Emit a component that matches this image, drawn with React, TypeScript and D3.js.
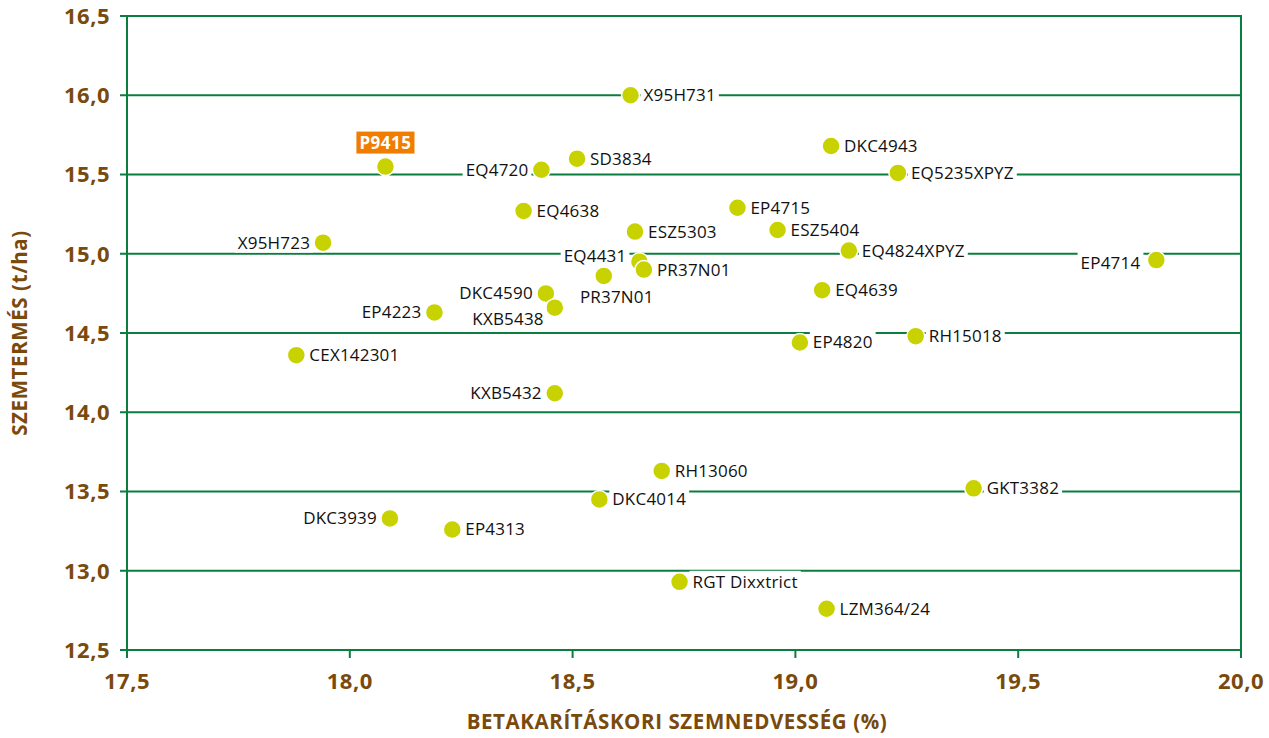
import React, { useEffect, useRef } from 'react';
import * as d3 from 'd3';

// hybrid names, moisture at harvest (%), yield (t/ha)
const hybrids = [
  'X95H731', 'P9415', 'SD3834', 'EQ4720', 'DKC4943', 'EQ5235XPYZ', 'EQ4638', 'EP4715',
  'ESZ5303', 'ESZ5404', 'X95H723', 'EQ4824XPYZ', 'EP4714', 'EQ4431', 'PR37N01', 'PR37N01',
  'DKC4590', 'KXB5438', 'EP4223', 'EQ4639', 'CEX142301', 'EP4820', 'RH15018', 'KXB5432',
  'RH13060', 'GKT3382', 'DKC4014', 'DKC3939', 'EP4313', 'RGT Dixxtrict', 'LZM364/24',
];
const moisture = [
  18.63, 18.08, 18.51, 18.43, 19.08, 19.23, 18.39, 18.87,
  18.64, 18.96, 17.94, 19.12, 19.81, 18.65, 18.66, 18.57,
  18.44, 18.46, 18.19, 19.06, 17.88, 19.01, 19.27, 18.46,
  18.70, 19.40, 18.56, 18.09, 18.23, 18.74, 19.07,
];
const yieldT = [
  16.0, 15.55, 15.6, 15.53, 15.68, 15.51, 15.27, 15.29,
  15.14, 15.15, 15.07, 15.02, 14.96, 14.95, 14.9, 14.86,
  14.75, 14.66, 14.63, 14.77, 14.36, 14.44, 14.48, 14.12,
  13.63, 13.52, 13.45, 13.33, 13.26, 12.93, 12.76,
];
// where the name sits next to its dot: r = right, l = left, la = left above, lb = left below, b = below, top = badge
const labelSide = [
  'r', 'top', 'r', 'l', 'r', 'r', 'r', 'r',
  'r', 'r', 'l', 'r', 'lb2', 'la', 'r', 'b',
  'l', 'lb', 'l', 'r', 'r', 'r', 'r', 'l',
  'r', 'r', 'r', 'l', 'r', 'r', 'r',
];

const xTicks = [17.5, 18.0, 18.5, 19.0, 19.5, 20.0];
const yTicks = [12.5, 13.0, 13.5, 14.0, 14.5, 15.0, 15.5, 16.0, 16.5];

const W = 1269;
const H = 738;
const GREEN = '#0b7d3e';
const BROWN = '#7a4a0c';
const DOT = '#c8d200';
const ORANGE = '#f07d00';
const FONT = '"Open Sans", "DejaVu Sans", sans-serif';

const fmt = (v: number) => v.toFixed(1).replace('.', ',');

export default function App() {
  const svgRef = useRef<SVGSVGElement>(null);

  useEffect(() => {
    document.body.style.margin = '0';
    const svg = d3.select(svgRef.current);
    svg.selectAll('*').remove();

    const x = d3.scaleLinear().domain([17.5, 20.0]).range([127, 1241]);
    const y = d3.scaleLinear().domain([12.5, 16.5]).range([650, 16]);

    // grid lines
    svg.append('g')
      .selectAll('line')
      .data(yTicks)
      .join('line')
      .attr('x1', 120)
      .attr('x2', x(20))
      .attr('y1', d => y(d))
      .attr('y2', d => y(d))
      .attr('stroke', GREEN)
      .attr('stroke-width', 2);

    // frame sides
    svg.append('line')
      .attr('x1', x(17.5)).attr('x2', x(17.5))
      .attr('y1', y(16.5) - 1).attr('y2', y(12.5) + 8)
      .attr('stroke', GREEN).attr('stroke-width', 2);
    svg.append('line')
      .attr('x1', x(20)).attr('x2', x(20))
      .attr('y1', y(16.5) - 1).attr('y2', y(12.5) + 8)
      .attr('stroke', GREEN).attr('stroke-width', 2);

    // x ticks
    svg.append('g')
      .selectAll('line')
      .data(xTicks)
      .join('line')
      .attr('x1', d => x(d))
      .attr('x2', d => x(d))
      .attr('y1', y(12.5))
      .attr('y2', y(12.5) + 8)
      .attr('stroke', GREEN)
      .attr('stroke-width', 2);

    // tick labels
    svg.append('g')
      .selectAll('text')
      .data(yTicks)
      .join('text')
      .attr('x', 110)
      .attr('y', d => y(d))
      .attr('dy', '0.36em')
      .attr('text-anchor', 'end')
      .attr('font-family', FONT)
      .attr('font-weight', 700)
      .attr('font-size', 22)
      .attr('letter-spacing', 0.5)
      .attr('fill', BROWN)
      .text(d => fmt(d));

    svg.append('g')
      .selectAll('text')
      .data(xTicks)
      .join('text')
      .attr('x', d => x(d))
      .attr('y', 689)
      .attr('text-anchor', 'middle')
      .attr('font-family', FONT)
      .attr('font-weight', 700)
      .attr('font-size', 22)
      .attr('letter-spacing', 0.5)
      .attr('fill', BROWN)
      .text(d => fmt(d));

    // axis titles
    svg.append('text')
      .attr('x', 677)
      .attr('y', 729)
      .attr('text-anchor', 'middle')
      .attr('font-family', FONT)
      .attr('font-weight', 700)
      .attr('font-size', 20.5)
      .attr('letter-spacing', 0.6)
      .attr('fill', BROWN)
      .text('BETAKARÍTÁSKORI SZEMNEDVESSÉG (%)');

    svg.append('text')
      .attr('transform', 'translate(27,333) rotate(-90)')
      .attr('text-anchor', 'middle')
      .attr('font-family', FONT)
      .attr('font-weight', 700)
      .attr('font-size', 20.5)
      .attr('letter-spacing', 0.6)
      .attr('fill', BROWN)
      .text('SZEMTERMÉS (t/ha)');

    const pts = hybrids.map((name, i) => ({
      name,
      cx: x(moisture[i]),
      cy: y(yieldT[i]),
      side: labelSide[i],
    }));

    const offset = (side: string) => {
      switch (side) {
        case 'l': return { dx: -13, dy: 0, anchor: 'end' };
        case 'la': return { dx: -13, dy: -6, anchor: 'end' };
        case 'lb': return { dx: -11, dy: 11, anchor: 'end' };
        case 'lb2': return { dx: -16, dy: 3, anchor: 'end' };
        case 'b': return { dx: 13, dy: 21, anchor: 'middle' };
        case 'top': return { dx: 0, dy: -24, anchor: 'middle' };
        default: return { dx: 13, dy: 0, anchor: 'start' };
      }
    };

    // labels with white knock-out boxes
    const labels = svg.append('g');
    const texts = labels.selectAll('g')
      .data(pts)
      .join('g')
      .attr('transform', d => {
        const o = offset(d.side);
        return `translate(${d.cx + o.dx},${d.cy + o.dy})`;
      });

    const tx = texts.append('text')
      .attr('dy', '0.35em')
      .attr('text-anchor', d => offset(d.side).anchor)
      .attr('font-family', FONT)
      .attr('font-size', 17)
      .attr('font-weight', d => (d.side === 'top' ? 700 : 400))
      .attr('letter-spacing', d => (d.side === 'top' ? 0.5 : 0.2))
      .attr('fill', d => (d.side === 'top' ? '#fff' : '#111'))
      .text(d => d.name);

    tx.each(function (d) {
      const bb = (this as SVGTextElement).getBBox();
      const pad = 3;
      d3.select((this as SVGTextElement).parentNode as SVGGElement)
        .insert('rect', 'text')
        .attr('x', bb.x - pad)
        .attr('y', d.side === 'top' ? -11 : bb.y + 1)
        .attr('width', bb.width + pad * 2)
        .attr('height', d.side === 'top' ? 22 : bb.height - 2)
        .attr('fill', d.side === 'top' ? ORANGE : '#fff');
    });

    // dots
    svg.append('g')
      .selectAll('circle')
      .data(pts)
      .join('circle')
      .attr('cx', d => d.cx)
      .attr('cy', d => d.cy)
      .attr('r', 9)
      .attr('fill', DOT)
      .attr('stroke', '#fff')
      .attr('stroke-width', 1.5);

    labels.raise();
    svg.selectAll('circle').raise();
  }, []);

  return <svg ref={svgRef} width={W} height={H} style={{ display: 'block', background: '#fff' }} />;
}
